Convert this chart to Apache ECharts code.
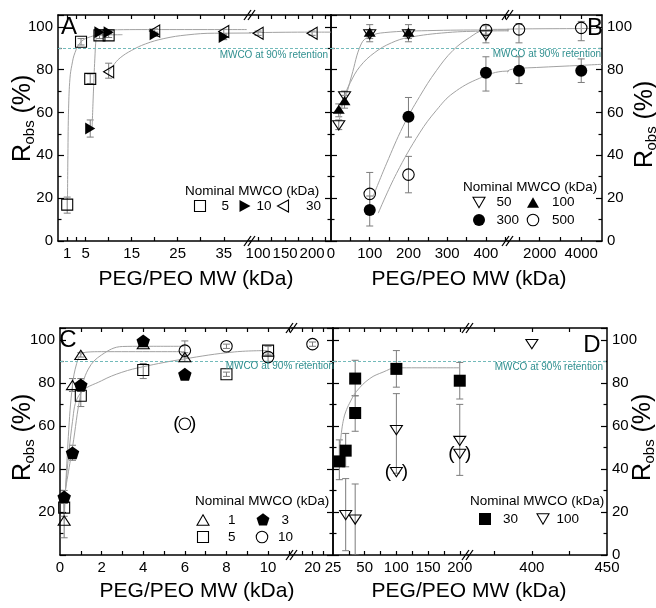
<!DOCTYPE html>
<html>
<head>
<meta charset="utf-8">
<script src="https://cdn.jsdelivr.net/npm/echarts@6/dist/echarts.min.js"></script>
<style>
  html, body { margin: 0; padding: 0; background: #fff; }
  #chart { width: 656px; height: 608px; }
</style>
</head>
<body>
<div id="chart"></div>
<script>
const FONT = '"Liberation Sans", Arial, Helvetica, sans-serif';
const RETENTION = 90;          // MWCO definition: 90 % retention
const Y_MAX = 105.5;
const ERR_COLOR = '#7c7c7c';
const FIT_COLOR = '#a2a2a2';
const GUIDE_COLOR = '#72baba';
const GUIDE_TEXT = '#2f8f8f';

// ---------- tick / label values of every axis segment ----------
const yLabelsFull = [0, 20, 40, 60, 80, 100];
const yLabelsNoZero = [20, 40, 60, 80, 100];

const aPegTicks = [1, 3, 5, 10, 15, 20, 25, 30, 35];
const aPegLabels = [1, 5, 15, 25, 35];
const aPeoTicks = [100, 125, 150, 175, 200, 225];
const aPeoLabels = [100, 150, 200];
const bLowTicks = [50, 100, 150, 200, 250, 300, 350, 400, 450];
const bLowLabels = [0, 100, 200, 300, 400];
const bHighTicks = [1000, 2000, 3000, 4000];
const bHighLabels = [2000, 4000];
const cLowTicks = [1, 2, 3, 4, 5, 6, 7, 8, 9, 10, 11];
const cLowLabels = [0, 2, 4, 6, 8, 10];
const cHighTicks = [17.5, 20, 22.5];
const cHighLabels = [20, 25];
const dLowTicks = [25, 50, 75, 100, 125, 150, 175, 200];
const dLowLabels = [50, 100, 150, 200];
const dHighTicks = [375, 400, 425];
const dHighLabels = [400, 450];

// ---------- Panel A: MWCO 5, 10, 30 kDa ----------
const a5 = [[1, 17], [4, 93], [6, 75.7], [8, 96], [10, 96]];
const a5Err = [[1, 13, 20.5], [4, 91.5, 94.5], [6, 73.5, 78], [8, 94.5, 97.5], [10, 95, 97]];
const a10 = [[6, 52.5], [8, 97.5], [10, 97.5], [20, 96.5], [35, 95.2]];
const a10Err = [[6, 48.5, 56.5], [8, 96.5, 98.5], [10, 96.5, 98.5], [20, 95.5, 97.5], [35, 94, 96.5]];
const a30 = [[10, 79], [20, 98], [35, 97.8], [100, 97], [200, 97]];
const a30Err = [[10, 76, 83], [20, 97, 99], [35, 96.8, 98.8], [100, 96, 98], [200, 96, 98]];
const a5Fit = [[1.05, 17], [1.15, 40], [1.3, 62], [1.6, 76], [2, 82], [2.7, 88], [4, 93], [6, 95.3], [8, 96], [13, 96.3]];
const a10Fit = [[6.4, 52.5], [6.7, 70], [7, 85], [7.3, 95], [7.7, 98], [9, 98.5], [20, 98.7], [40, 98.7]];
const a30Fit = [[10, 79], [11, 82], [12.5, 85.5], [15, 89], [18, 92], [22, 94.5], [27, 96.2], [33, 97], [100, 97.3], [200, 97.5], [235, 97.5]];

// ---------- Panel B: MWCO 50, 100, 300, 500 kDa ----------
const b50 = [[20, 54], [35, 67.5], [100, 96.5], [200, 96.5], [400, 96]];
const b50Err = [[20, 52, 56.5], [35, 65, 70], [100, 94.5, 98.5], [200, 94.5, 98.5], [400, 92.5, 101]];
const b100 = [[20, 61.5], [35, 65.5], [100, 97.5], [200, 97.5]];
const b100Err = [[20, 58, 64], [35, 62, 68], [100, 93, 101], [200, 93, 101]];
const b300 = [[100, 14.5], [200, 58], [400, 78.5], [1000, 79.5], [4000, 79.5]];
const b300Err = [[100, 7, 21], [200, 48.5, 67], [400, 70, 86], [1000, 73.5, 86], [4000, 74, 85]];
const b500 = [[100, 22], [200, 31], [400, 98.5], [1000, 98.8], [4000, 99.5]];
const b500Err = [[100, 15, 32], [200, 22.5, 39.5], [400, 96.5, 100.5], [1000, 92.5, 101.5], [4000, 93.5, 102.5]];
const b50Fit = [[20, 55], [35, 67.5], [50, 74], [75, 81.5], [113, 88], [156, 92.5], [200, 95], [300, 97.3], [400, 98], [460, 98.1]];
const b100Fit = [[20, 61], [35, 66], [53, 77], [78, 92], [100, 95.6], [139, 97.3], [250, 98.2], [400, 98.5], [460, 98.5]];
const b300Fit = [[122, 13], [169, 31.5], [229, 50.5], [272, 61], [315, 69], [384, 76], [452, 79.3], [1000, 80.5], [1855, 81], [4000, 82], [5000, 82.5]];
const b500Fit = [[108, 20.5], [143, 36], [186, 53.5], [229, 67.5], [272, 79.5], [315, 89], [358, 95], [393, 98.3], [430, 98.8], [1000, 99], [5000, 99.2]];

// ---------- Panel C: MWCO 1, 3, 5, 10 kDa ----------
const c1 = [[0.2, 16], [0.6, 79], [1, 93], [4, 98], [6, 92]];
const c1Err = [[0.2, 8, 26], [0.6, 76, 82], [1, 92, 94], [4, 97, 99], [6, 90, 94]];
const c3 = [[0.2, 27], [0.6, 47.5], [1, 79], [4, 99.5], [6, 84]];
const c3Err = [[0.2, 24, 30], [0.6, 44, 51], [1, 76, 82], [4, 98, 101], [6, 83, 85]];
const c5 = [[0.2, 22], [1, 74], [4, 86], [8, 84], [10, 95]];
const c5Err = [[0.2, 18, 26], [1, 69, 78], [4, 82, 89], [8, 83, 85], [10, 93, 97]];
const c10 = [[6, 95], [8, 97], [10, 92], [20, 98]];
const c10Err = [[6, 92, 99.5], [8, 96, 98], [10, 90, 94], [20, 97, 99]];
const c10Excluded = [[6, 61]];
const c1Fit = [[0.2, 16], [0.4, 55], [0.6, 79], [0.8, 89], [1, 93], [1.3, 94.3], [2, 94.5], [6, 94.5]];
const c3Fit = [[0.2, 27], [0.6, 50], [1, 75], [1.36, 86.4], [2, 93], [3, 96.9], [4, 97], [6, 97]];
const c5Fit = [[0.2, 22], [0.6, 62], [0.96, 74.9], [2, 81], [2.97, 84.9], [4, 87.5], [5.9, 91], [8.4, 94.4], [10, 95]];

// ---------- Panel D: MWCO 30, 100 kDa ----------
const d30 = [[10, 43.5], [20, 48.5], [35, 82], [35, 66], [100, 86.5], [200, 81]];
const d30Err = [[10, 35, 53.5], [20, 41, 56.5], [35, 74, 90.5], [35, 57.5, 74], [100, 78, 95], [200, 72.5, 89.5]];
const d100 = [[20, 18.5], [35, 16.5], [100, 58], [200, 53], [400, 98]];
const d100Err = [[20, 2, 35.5], [35, 0, 33], [100, 38, 75], [200, 37, 70]];
const d100Excluded = [[100, 38.5], [200, 47]];
const d30Fit = [[10, 45], [12, 53], [14, 58.5], [17, 63.5], [20, 66.5], [26, 70.5], [37, 76], [58, 82], [79, 85], [100, 87], [200, 87]];

// ---------- layout: each panel is split into two grids at its axis break ----------
const GRIDS = [
  { left: 58,  top: 15,  width: 192, height: 226 },  // A, PEG range
  { left: 250, top: 15,  width: 81,  height: 226 },  // A, PEO range
  { left: 331, top: 15,  width: 177, height: 226 },  // B, low MW
  { left: 508, top: 15,  width: 94,  height: 226 },  // B, high MW
  { left: 60,  top: 328, width: 232, height: 227 },  // C, low MW
  { left: 292, top: 328, width: 41,  height: 227 },  // C, high MW
  { left: 333, top: 328, width: 135, height: 227 },  // D, low MW
  { left: 468, top: 328, width: 139, height: 227 },  // D, high MW
];
const X_SPECS = [
  { min: -1,    max: 40.7, ticks: aPegTicks,  labels: aPegLabels },
  { min: 85,    max: 235,  ticks: aPeoTicks,  labels: aPeoLabels },
  { min: 0,     max: 457,  ticks: bLowTicks,  labels: bLowLabels },
  { min: 470,   max: 5000, ticks: bHighTicks, labels: bHighLabels },
  { min: 0,     max: 11.15, ticks: cLowTicks, labels: cLowLabels },
  { min: 15,    max: 25,   ticks: cHighTicks, labels: cHighLabels },
  { min: 0,     max: 213,  ticks: dLowTicks,  labels: dLowLabels },
  { min: 357.5, max: 450,  ticks: dHighTicks, labels: dHighLabels },
];
const Y_SPECS = [
  { side: 'left',  labels: yLabelsFull },
  { side: 'right', labels: null },
  { side: 'left',  labels: null },
  { side: 'right', labels: yLabelsFull },
  { side: 'left',  labels: yLabelsNoZero },
  { side: 'right', labels: null },
  { side: 'left',  labels: null },
  { side: 'right', labels: yLabelsFull },
];

const AXIS_LINE = { show: true, onZero: false, lineStyle: { color: '#000', width: 1.5 } };
const TICK_LINE = { color: '#000', width: 1.2 };
const plainNumber = v => String(v);

const xAxes = [];
GRIDS.forEach((g, i) => {
  const s = X_SPECS[i];
  xAxes.push({
    type: 'value', gridIndex: i, min: s.min, max: s.max, position: 'bottom',
    axisLine: AXIS_LINE, splitLine: { show: false },
    axisTick: { show: true, inside: true, length: 4, customValues: s.ticks, lineStyle: TICK_LINE },
    axisLabel: { show: true, customValues: s.labels, formatter: plainNumber, fontSize: 15, color: '#000', margin: 5, fontFamily: FONT }
  });
});
GRIDS.forEach((g, i) => {
  const s = X_SPECS[i];
  xAxes.push({
    type: 'value', gridIndex: i, min: s.min, max: s.max, position: 'top',
    axisLine: AXIS_LINE, splitLine: { show: false },
    axisTick: { show: true, inside: true, length: 4, customValues: s.ticks, lineStyle: TICK_LINE },
    axisLabel: { show: false }
  });
});

const yAxes = GRIDS.map((g, i) => {
  const s = Y_SPECS[i];
  return {
    type: 'value', gridIndex: i, min: 0, max: Y_MAX, interval: 20, position: s.side,
    axisLine: AXIS_LINE, splitLine: { show: false },
    axisTick: { show: true, inside: true, length: 6, lineStyle: TICK_LINE },
    minorTick: { show: true, splitNumber: 2, length: 3.5, lineStyle: TICK_LINE },
    axisLabel: s.labels ? {
      show: true, fontSize: 15, color: '#000', margin: 5, fontFamily: FONT,
      formatter: v => (s.labels.indexOf(v) >= 0 ? String(v) : '')
    } : { show: false }
  };
});

// ---------- symbols (polygons are given in a unit box) ----------
function polySymbol(points, size, filled) {
  const d = points.map((p, k) => (k ? 'L' : 'M') + (p[0] * size[0]).toFixed(2) + ',' + (p[1] * size[1]).toFixed(2)).join('') + 'Z';
  return { symbol: 'path://' + d, poly: points, size, filled };
}
const PENTA = [[0.5, 0], [0.976, 0.345], [0.794, 0.905], [0.206, 0.905], [0.024, 0.345]];
const SYM = {
  square:       { symbol: 'rect', size: [11, 11], filled: false },
  squareFilled: { symbol: 'rect', size: [12, 12], filled: true },
  circle:       { symbol: 'circle', size: [11.5, 11.5], filled: false },
  circleFilled: { symbol: 'circle', size: [12, 12], filled: true },
  triRight:     polySymbol([[0, 0], [1, 0.5], [0, 1]], [11, 12], true),
  triLeft:      polySymbol([[1, 0], [0, 0.5], [1, 1]], [11, 12], false),
  triDown:      polySymbol([[0, 0], [1, 0], [0.5, 1]], [12, 10.5], false),
  triUp:        polySymbol([[0.5, 0], [1, 1], [0, 1]], [12, 10.5], false),
  triUpFilled:  polySymbol([[0.5, 0], [1, 1], [0, 1]], [12, 10.5], true),
  pentagon:     polySymbol(PENTA, [13.5, 13.5], true)
};

// vertical error bar with caps; skipped when the point lies outside this grid's x range
function errorBar(params, api) {
  const x = api.value(0);
  const hi = api.coord([x, api.value(2)]);
  const lo = api.coord([x, api.value(1)]);
  const cs = params.coordSys;
  if (hi[0] < cs.x || hi[0] > cs.x + cs.width) return null;
  const cap = 3.5;
  const style = { stroke: ERR_COLOR, lineWidth: 1, fill: null };
  return {
    type: 'group',
    children: [
      { type: 'line', shape: { x1: hi[0], y1: hi[1], x2: lo[0], y2: lo[1] }, style },
      { type: 'line', shape: { x1: hi[0] - cap, y1: hi[1], x2: hi[0] + cap, y2: hi[1] }, style },
      { type: 'line', shape: { x1: lo[0] - cap, y1: lo[1], x2: lo[0] + cap, y2: lo[1] }, style }
    ]
  };
}

const series = [];
function addErr(g, data) {
  series.push({
    type: 'custom', xAxisIndex: g, yAxisIndex: g, data, clip: true, silent: true, z: 2,
    encode: { x: 0, y: [1, 2] }, renderItem: errorBar
  });
}
function addFit(g, data) {
  series.push({
    type: 'line', xAxisIndex: g, yAxisIndex: g, data, symbol: 'none', showSymbol: false,
    smooth: 0.4, clip: true, silent: true, z: 3,
    lineStyle: { color: FIT_COLOR, width: 1 }
  });
}
function addPoints(g, data, sym, excluded) {
  const s = {
    type: 'scatter', xAxisIndex: g, yAxisIndex: g, data, clip: true, silent: true, z: 5,
    symbol: sym.symbol, symbolSize: sym.size, symbolKeepAspect: true,
    itemStyle: sym.filled
      ? { color: '#000', borderWidth: 0, opacity: 1 }
      : { color: 'rgba(0,0,0,0)', borderColor: '#000', borderWidth: 1.1, opacity: 1 }
  };
  if (excluded) {
    s.label = { show: true, position: 'inside', formatter: '(  )', fontSize: 19, color: '#000', fontFamily: FONT };
  }
  series.push(s);
}
function addGuide(g) {
  series.push({
    type: 'line', xAxisIndex: g, yAxisIndex: g, data: [], silent: true,
    markLine: {
      silent: true, symbol: ['none', 'none'], animation: false, label: { show: false },
      lineStyle: { color: GUIDE_COLOR, width: 1, type: [3, 2] },
      data: [{ yAxis: RETENTION }]
    }
  });
}

// Panel A
[0, 1].forEach(g => {
  addGuide(g);
  addErr(g, a5Err); addErr(g, a10Err); addErr(g, a30Err);
  addFit(g, a5Fit); addFit(g, a10Fit); addFit(g, a30Fit);
  addPoints(g, a5, SYM.square); addPoints(g, a10, SYM.triRight); addPoints(g, a30, SYM.triLeft);
});
// Panel B
[2, 3].forEach(g => {
  addGuide(g);
  addErr(g, b50Err); addErr(g, b100Err); addErr(g, b300Err); addErr(g, b500Err);
  addFit(g, b50Fit); addFit(g, b100Fit); addFit(g, b300Fit); addFit(g, b500Fit);
  addPoints(g, b50, SYM.triDown); addPoints(g, b100, SYM.triUpFilled);
  addPoints(g, b300, SYM.circleFilled); addPoints(g, b500, SYM.circle);
});
// Panel C
[4, 5].forEach(g => {
  addGuide(g);
  addErr(g, c1Err); addErr(g, c3Err); addErr(g, c5Err); addErr(g, c10Err);
  addFit(g, c1Fit); addFit(g, c3Fit); addFit(g, c5Fit);
  addPoints(g, c1, SYM.triUp); addPoints(g, c3, SYM.pentagon);
  addPoints(g, c5, SYM.square); addPoints(g, c10, SYM.circle);
  addPoints(g, c10Excluded, SYM.circle, true);
});
// Panel D
[6, 7].forEach(g => {
  addGuide(g);
  addErr(g, d30Err); addErr(g, d100Err);
  addFit(g, d30Fit);
  addPoints(g, d30, SYM.squareFilled); addPoints(g, d100, SYM.triDown);
  addPoints(g, d100Excluded, SYM.triDown, true);
});

// ---------- annotations, titles and legends ----------
function txt(x, y, text, size, opt) {
  return {
    type: 'text', x, y, silent: true, z: 10,
    style: Object.assign({
      text, fill: '#000', fontSize: size, fontFamily: FONT, align: 'center', verticalAlign: 'middle'
    }, opt || {})
  };
}
function robsTitle(cx, cy) {
  return {
    type: 'group', x: cx, y: cy, rotation: Math.PI / 2, silent: true,
    children: [
      txt(-43, 0, 'R', 25, { align: 'left' }),
      txt(-25.5, 7, 'obs', 15, { align: 'left' }),
      txt(-1.5, 0, ' (%)', 25, { align: 'left' })
    ]
  };
}
function legendMark(sym, cx, cy) {
  const style = sym.filled ? { fill: '#000' } : { fill: 'none', stroke: '#000', lineWidth: 1.1 };
  const w = sym.size[0], h = sym.size[1];
  if (sym.symbol === 'rect') {
    return { type: 'rect', silent: true, shape: { x: cx - w / 2, y: cy - h / 2, width: w, height: h }, style };
  }
  if (sym.symbol === 'circle') {
    return { type: 'circle', silent: true, shape: { cx, cy, r: w / 2 }, style };
  }
  return {
    type: 'polygon', silent: true,
    shape: { points: sym.poly.map(p => [cx - w / 2 + p[0] * w, cy - h / 2 + p[1] * h]) },
    style
  };
}
function breakMark(x, y) {
  const st = { stroke: '#000', lineWidth: 1.3 };
  return {
    type: 'group', silent: true, z: 20,
    children: [
      { type: 'rect', shape: { x: x - 3, y: y - 2, width: 6, height: 4 }, style: { fill: '#fff' } },
      { type: 'line', shape: { x1: x - 6, y1: y + 5, x2: x + 1, y2: y - 5 }, style: st },
      { type: 'line', shape: { x1: x - 2, y1: y + 5, x2: x + 5, y2: y - 5 }, style: st }
    ]
  };
}

const LEG = 13.5;
const graphics = [
  // panel letters
  txt(69, 27, 'A', 24), txt(595, 28, 'B', 24), txt(68, 340, 'C', 24), txt(592, 345, 'D', 24),
  // axis titles
  robsTitle(23, 119), robsTitle(645, 125), robsTitle(23, 438), robsTitle(643, 438),
  txt(196, 279, 'PEG/PEO MW (kDa)', 21), txt(469, 279, 'PEG/PEO MW (kDa)', 21),
  txt(197, 591, 'PEG/PEO MW (kDa)', 21), txt(469, 591, 'PEG/PEO MW (kDa)', 21),
  // retention guide captions
  txt(328, 55, 'MWCO at 90% retention', 10, { align: 'right', fill: GUIDE_TEXT }),
  txt(601, 54, 'MWCO at 90% retention', 10, { align: 'right', fill: GUIDE_TEXT }),
  txt(334, 366, 'MWCO at 90% retention', 10, { align: 'right', fill: GUIDE_TEXT }),
  txt(603, 367, 'MWCO at 90% retention', 10, { align: 'right', fill: GUIDE_TEXT }),
  // legend A
  txt(185, 191.5, 'Nominal MWCO (kDa)', LEG, { align: 'left' }),
  legendMark(SYM.square, 200, 206), txt(221.5, 206, '5', LEG, { align: 'left' }),
  legendMark(SYM.triRight, 245, 206), txt(256.5, 206, '10', LEG, { align: 'left' }),
  legendMark(SYM.triLeft, 283, 206), txt(306, 206, '30', LEG, { align: 'left' }),
  // legend B
  txt(463, 187, 'Nominal MWCO (kDa)', LEG, { align: 'left' }),
  legendMark(SYM.triDown, 479, 202.5), txt(496.5, 202.5, '50', LEG, { align: 'left' }),
  legendMark(SYM.triUpFilled, 533, 202.5), txt(552, 202.5, '100', LEG, { align: 'left' }),
  legendMark(SYM.circleFilled, 479, 220), txt(496.5, 220, '300', LEG, { align: 'left' }),
  legendMark(SYM.circle, 533, 220), txt(552, 220, '500', LEG, { align: 'left' }),
  // legend C
  txt(195, 501.5, 'Nominal MWCO (kDa)', LEG, { align: 'left' }),
  legendMark(SYM.triUp, 203, 520), txt(228, 520, '1', LEG, { align: 'left' }),
  legendMark(SYM.pentagon, 263, 520), txt(281.5, 520, '3', LEG, { align: 'left' }),
  legendMark(SYM.square, 203, 537), txt(228, 537, '5', LEG, { align: 'left' }),
  legendMark(SYM.circle, 262, 537), txt(278, 537, '10', LEG, { align: 'left' }),
  // legend D
  txt(470, 501.5, 'Nominal MWCO (kDa)', LEG, { align: 'left' }),
  legendMark(SYM.squareFilled, 485, 519), txt(503, 519, '30', LEG, { align: 'left' }),
  legendMark(SYM.triDown, 543, 519), txt(556.5, 519, '100', LEG, { align: 'left' })
];
// break symbols at the junction of the two grids of each panel
[1, 3, 5, 7].forEach(i => {
  const g = GRIDS[i];
  graphics.push(breakMark(g.left, g.top));
  graphics.push(breakMark(g.left, g.top + g.height));
});

const chart = echarts.init(document.getElementById('chart'), null, { renderer: 'canvas' });
chart.setOption({
  animation: false,
  backgroundColor: '#fff',
  textStyle: { fontFamily: FONT },
  grid: GRIDS.map(g => Object.assign({ containLabel: false, outerBoundsMode: 'none' }, g)),
  xAxis: xAxes,
  yAxis: yAxes,
  series,
  graphic: { elements: graphics }
});
</script>
</body>
</html>
